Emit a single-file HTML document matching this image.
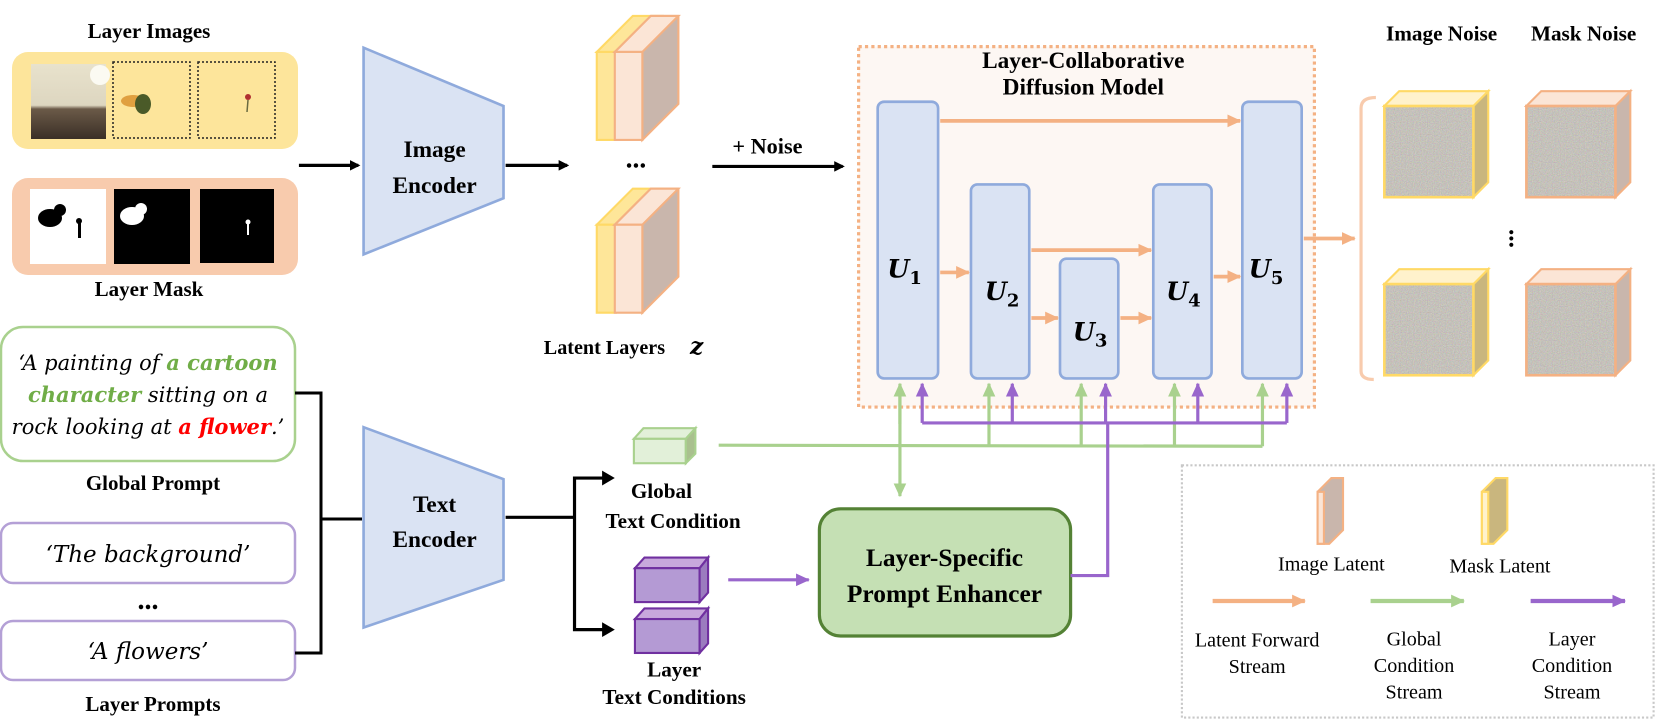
<!DOCTYPE html>
<html><head><meta charset="utf-8"><style>
html,body{margin:0;padding:0;background:#fff;}
svg{display:block;}
.b{font-family:"Liberation Serif",serif;font-weight:bold;fill:#000;}
.r{font-family:"Liberation Serif",serif;fill:#000;}
.i{font-family:"DejaVu Serif","Liberation Serif",serif;font-style:italic;}
</style></head><body>
<svg width="1662" height="726" viewBox="0 0 1662 726" xmlns="http://www.w3.org/2000/svg">
<defs>
<marker id="ak" markerWidth="10" markerHeight="10" refX="8" refY="5" orient="auto" markerUnits="userSpaceOnUse"><path d="M0,0 L10,5 L0,10 z" fill="#000"/></marker>
<marker id="ao" markerWidth="14" markerHeight="14" refX="12" refY="7" orient="auto" markerUnits="userSpaceOnUse"><path d="M0,1 L13,7 L0,13 z" fill="#f4b183"/></marker>
<marker id="ag" markerWidth="14" markerHeight="14" refX="12" refY="7" orient="auto" markerUnits="userSpaceOnUse"><path d="M0,1 L13,7 L0,13 z" fill="#a9d18e"/></marker>
<marker id="ap" markerWidth="14" markerHeight="14" refX="12" refY="7" orient="auto" markerUnits="userSpaceOnUse"><path d="M0,1 L13,7 L0,13 z" fill="#9966cc"/></marker>
<filter id="nz" x="0" y="0" width="100%" height="100%"><feTurbulence type="fractalNoise" baseFrequency="0.9" numOctaves="2" seed="3"/><feColorMatrix type="matrix" values="0.35 0 0 0 0.38  0 0.35 0 0 0.36  0 0 0.35 0 0.32  0 0 0 0 1"/></filter>
<linearGradient id="sky" x1="0" y1="0" x2="0" y2="1"><stop offset="0" stop-color="#e8e2cc"/><stop offset="0.55" stop-color="#ddd6c0"/><stop offset="0.6" stop-color="#6b5a48"/><stop offset="1" stop-color="#3a2f26"/></linearGradient>
</defs>

<!-- Layer images -->
<text x="149" y="38" class="b" font-size="21" text-anchor="middle">Layer Images</text>
<rect x="12" y="52" width="286" height="97" rx="16" fill="#fde59b"/>
<rect x="31" y="64" width="75" height="75" fill="url(#sky)"/>
<circle cx="100" cy="75" r="10" fill="#fbfaf2"/>
<rect x="113" y="62" width="77" height="76" fill="none" stroke="#222" stroke-width="1.5" stroke-dasharray="2,2"/>
<ellipse cx="133" cy="101" rx="12" ry="6" fill="#e0a040"/>
<ellipse cx="143" cy="104" rx="8" ry="10" fill="#4a5a28"/>
<rect x="198" y="62" width="77" height="76" fill="none" stroke="#222" stroke-width="1.5" stroke-dasharray="2,2"/>
<circle cx="248" cy="97" r="3" fill="#b03030"/><line x1="248" y1="100" x2="247" y2="112" stroke="#6a6a40" stroke-width="1.5"/>
<rect x="12" y="178" width="286" height="97" rx="16" fill="#f8cbad"/>
<rect x="30" y="189" width="76" height="75" fill="#fff"/>
<ellipse cx="50" cy="218" rx="12" ry="9" fill="#000"/><circle cx="60" cy="210" r="6" fill="#000"/><rect x="78" y="220" width="3" height="18" fill="#000"/><circle cx="79" cy="221" r="3" fill="#000"/>
<rect x="114" y="189" width="76" height="75" fill="#000"/>
<ellipse cx="132" cy="216" rx="12" ry="9" fill="#fff"/><circle cx="141" cy="209" r="6" fill="#fff"/>
<rect x="200" y="189" width="74" height="74" fill="#000"/>
<circle cx="248" cy="222" r="2.5" fill="#fff"/><rect x="247" y="223" width="2" height="12" fill="#fff"/>
<text x="149" y="296" class="b" font-size="21" text-anchor="middle">Layer Mask</text>

<!-- Prompts -->
<rect x="1" y="327" width="294" height="134" rx="22" fill="#fff" stroke="#a9d18e" stroke-width="2.5"/>
<g class="i" font-size="21">
<text x="148" y="370" text-anchor="middle">‘A  painting of <tspan fill="#70ad47" font-weight="bold">a cartoon</tspan></text>
<text x="148" y="402" text-anchor="middle"><tspan fill="#70ad47" font-weight="bold">character</tspan> sitting on a</text>
<text x="148" y="434" text-anchor="middle">rock looking at <tspan fill="#ff0000" font-weight="bold">a flower</tspan>.’</text>
</g>
<text x="153" y="490" class="b" font-size="21" text-anchor="middle">Global Prompt</text>
<rect x="1" y="523" width="294" height="60" rx="12" fill="#fff" stroke="#b4a0d6" stroke-width="2.5"/>
<text x="148" y="562" class="i" font-size="23" text-anchor="middle">‘The background’</text>
<text x="148" y="609" class="b" font-size="28" text-anchor="middle">...</text>
<rect x="1" y="621" width="294" height="59" rx="12" fill="#fff" stroke="#b4a0d6" stroke-width="2.5"/>
<text x="148" y="659" class="i" font-size="23" text-anchor="middle">‘A  flowers’</text>
<text x="153" y="711" class="b" font-size="21" text-anchor="middle">Layer Prompts</text>
<polyline points="295,393 321,393 321,653 295,653" fill="none" stroke="#000" stroke-width="3"/>
<line x1="321" y1="519" x2="362" y2="519" stroke="#000" stroke-width="3"/>

<g transform="scale(1.06)">
<!-- Image Encoder -->
<path d="M343,45 L475,100 L475,187 L343,240 Z" fill="#dae3f3" stroke="#8faadc" stroke-width="2.5"/>
<text x="410" y="148" class="b" font-size="22" text-anchor="middle">Image</text>
<text x="410" y="182" class="b" font-size="22" text-anchor="middle">Encoder</text>
<line x1="282" y1="156" x2="338" y2="156" stroke="#000" stroke-width="3" marker-end="url(#ak)"/>
<line x1="477" y1="156" x2="535" y2="156" stroke="#000" stroke-width="3" marker-end="url(#ak)"/>

<!-- Latent stacks -->
<g id="lat">
<path d="M563,49 L597,15 L624,15 L590,49 Z" fill="#fee699" stroke="#ffd966" stroke-width="2"/>
<rect x="563" y="49" width="18" height="83" fill="#fee699" stroke="#ffd966" stroke-width="2"/>
<path d="M580,49 L614,15 L640,15 L640,98 L606,132 L606,49 Z" fill="#c9b6ac" stroke="#f4b183" stroke-width="2"/>
<path d="M580,49 L614,15 L640,15 L606,49 Z" fill="#fbe5d6" stroke="#f4b183" stroke-width="2"/>
<rect x="580" y="49" width="26" height="83" fill="#fbe5d6" stroke="#f4b183" stroke-width="2"/>
</g>
<use href="#lat" transform="translate(0,163)"/>
<text x="600" y="158" class="b" font-size="26" text-anchor="middle">...</text>
<text x="513" y="334" class="b" font-size="19">Latent Layers</text>
<text x="651" y="334" font-family="DejaVu Serif,serif" font-weight="bold" font-style="italic" font-size="22">z</text>

<!-- Noise -->
<text x="724" y="145" class="b" font-size="21" text-anchor="middle">+ Noise</text>
<line x1="672" y1="157" x2="795" y2="157" stroke="#000" stroke-width="3" marker-end="url(#ak)"/>

<!-- Diffusion box -->
<rect x="810" y="44" width="430" height="340" fill="#fdf7f3" stroke="#f4b183" stroke-width="3" stroke-dasharray="3,3"/>
<text x="1022" y="64" class="b" font-size="22" text-anchor="middle">Layer-Collaborative</text>
<text x="1022" y="89" class="b" font-size="22" text-anchor="middle">Diffusion Model</text>
<g fill="#dae3f3" stroke="#8faadc" stroke-width="2.5">
<rect x="828" y="96" width="57" height="261" rx="6"/>
<rect x="916" y="174" width="55" height="183" rx="6"/>
<rect x="1000" y="244" width="55" height="113" rx="6"/>
<rect x="1088" y="174" width="55" height="183" rx="6"/>
<rect x="1172" y="96" width="56" height="261" rx="6"/>
</g>
<g font-family="DejaVu Serif,serif" font-weight="bold" font-style="italic" font-size="24">
<text x="837" y="262">U<tspan font-size="17" font-style="normal" dy="6">1</tspan></text>
<text x="929" y="283">U<tspan font-size="17" font-style="normal" dy="6">2</tspan></text>
<text x="1012" y="321">U<tspan font-size="17" font-style="normal" dy="6">3</tspan></text>
<text x="1100" y="283">U<tspan font-size="17" font-style="normal" dy="6">4</tspan></text>
<text x="1178" y="262">U<tspan font-size="17" font-style="normal" dy="6">5</tspan></text>
</g>
<g stroke="#f4b183" stroke-width="3.5">
<line x1="887" y1="114" x2="1170" y2="114" marker-end="url(#ao)"/>
<line x1="887" y1="257" x2="914" y2="257" marker-end="url(#ao)"/>
<line x1="973" y1="236" x2="1086" y2="236" marker-end="url(#ao)"/>
<line x1="973" y1="300" x2="998" y2="300" marker-end="url(#ao)"/>
<line x1="1057" y1="300" x2="1086" y2="300" marker-end="url(#ao)"/>
<line x1="1145" y1="261" x2="1170" y2="261" marker-end="url(#ao)"/>
<line x1="1230" y1="225" x2="1278" y2="225" marker-end="url(#ao)"/>
</g>

<!-- Noise cubes -->
<path d="M1298,92 Q1284,92 1284,102 L1284,350 Q1284,358 1296,358" fill="none" stroke="#f8cbad" stroke-width="3"/>
<text x="1360" y="38" class="b" font-size="20" text-anchor="middle">Image Noise</text>
<text x="1494" y="38" class="b" font-size="20" text-anchor="middle">Mask Noise</text>
<g id="nc">
<path d="M1390,100 L1404,86 L1404,172 L1390,186 Z" fill="#c9b67e" stroke="#ffd966" stroke-width="2"/>
<path d="M1306,100 L1320,86 L1404,86 L1390,100 Z" fill="#fff2cc" stroke="#ffd966" stroke-width="2"/>
<rect x="1306" y="100" width="84" height="86" fill="#888" filter="url(#nz)"/>
<rect x="1306" y="100" width="84" height="86" fill="none" stroke="#ffd966" stroke-width="2.5"/>
</g>
<g id="nm">
<path d="M1524,100 L1538,86 L1538,172 L1524,186 Z" fill="#c9b6ac" stroke="#f4b183" stroke-width="2"/>
<path d="M1440,100 L1454,86 L1538,86 L1524,100 Z" fill="#fbe5d6" stroke="#f4b183" stroke-width="2"/>
<rect x="1440" y="100" width="84" height="86" fill="#888" filter="url(#nz)"/>
<rect x="1440" y="100" width="84" height="86" fill="none" stroke="#f4b183" stroke-width="2.5"/>
</g>
<use href="#nc" transform="translate(0,168)"/>
<use href="#nm" transform="translate(0,168)"/>
<text x="1424" y="225" class="b" font-size="24" text-anchor="middle" transform="rotate(90 1424 225)">...</text>

<!-- Text Encoder -->
<path d="M343,403 L475,452 L475,547 L343,592 Z" fill="#dae3f3" stroke="#8faadc" stroke-width="2.5"/>
<text x="410" y="483" class="b" font-size="22" text-anchor="middle">Text</text>
<text x="410" y="516" class="b" font-size="22" text-anchor="middle">Encoder</text>
<line x1="477" y1="488" x2="542" y2="488" stroke="#000" stroke-width="3"/>
<polyline points="575,451 542,451 542,594 575,594" fill="none" stroke="#000" stroke-width="3"/>
<path d="M568,444 L580,451 L568,458 Z"/><path d="M568,587 L580,594 L568,601 Z"/>

<!-- Condition cubes -->
<g stroke="#a9d18e" stroke-width="2">
<path d="M598,414 L607,404 L656,404 L647,414 Z" fill="#e2f0d9"/>
<rect x="598" y="414" width="49" height="23" fill="#e2f0d9"/>
<path d="M647,414 L656,404 L656,428 L647,437 Z" fill="#a9c08e"/>
</g>
<text x="624" y="470" class="b" font-size="20" text-anchor="middle">Global</text>
<text x="635" y="498" class="b" font-size="20" text-anchor="middle">Text Condition</text>
<g id="pc" stroke="#7030a0" stroke-width="2">
<path d="M599,536 L608,526 L668,526 L660,536 Z" fill="#c8a8dc"/>
<rect x="599" y="536" width="61" height="32" fill="#b49ad4"/>
<path d="M660,536 L668,526 L668,559 L660,568 Z" fill="#9b7cbf"/>
</g>
<use href="#pc" transform="translate(0,48)"/>
<text x="636" y="638" class="b" font-size="20" text-anchor="middle">Layer</text>
<text x="636" y="664" class="b" font-size="20" text-anchor="middle">Text Conditions</text>
<line x1="687" y1="547" x2="763" y2="547" stroke="#9966cc" stroke-width="3" marker-end="url(#ap)"/>

<!-- Enhancer -->
<rect x="773" y="480" width="237" height="120" rx="20" fill="#c5e0b4" stroke="#548235" stroke-width="3"/>
<text x="891" y="534" class="b" font-size="24" text-anchor="middle">Layer-Specific</text>
<text x="891" y="568" class="b" font-size="24" text-anchor="middle">Prompt Enhancer</text>

<!-- Condition lines -->
<g stroke="#a9d18e" stroke-width="3" fill="none">
<line x1="678" y1="420" x2="1191" y2="421"/>
<line x1="849" y1="372" x2="849" y2="468" marker-end="url(#ag)"/>
<line x1="849" y1="400" x2="849" y2="362" marker-end="url(#ag)"/>
<line x1="933" y1="421" x2="933" y2="362" marker-end="url(#ag)"/>
<line x1="1020" y1="421" x2="1020" y2="362" marker-end="url(#ag)"/>
<line x1="1108" y1="421" x2="1108" y2="362" marker-end="url(#ag)"/>
<line x1="1191" y1="421" x2="1191" y2="362" marker-end="url(#ag)"/>
</g>
<g stroke="#9966cc" stroke-width="3" fill="none">
<line x1="870" y1="399" x2="1214" y2="399"/>
<line x1="870" y1="399" x2="870" y2="362" marker-end="url(#ap)"/>
<line x1="955" y1="399" x2="955" y2="362" marker-end="url(#ap)"/>
<line x1="1043" y1="399" x2="1043" y2="362" marker-end="url(#ap)"/>
<line x1="1130" y1="399" x2="1130" y2="362" marker-end="url(#ap)"/>
<line x1="1214" y1="399" x2="1214" y2="362" marker-end="url(#ap)"/>
<polyline points="1010,543 1045,543 1045,400"/>
</g>

<!-- Legend -->
<rect x="1115" y="439" width="445" height="238" fill="#fff" stroke="#c8c8c8" stroke-width="2" stroke-dasharray="2,2"/>
<path d="M1243,464 L1256,451 L1267,451 L1267,500 L1254,513 L1243,513 Z" fill="#c9b6ac" stroke="#f4b183" stroke-width="2"/>
<rect x="1243" y="464" width="6" height="49" fill="#fbe5d6" stroke="#f4b183" stroke-width="2"/>
<path d="M1398,464 L1411,451 L1422,451 L1422,500 L1409,513 L1398,513 Z" fill="#c9b67e" stroke="#ffd966" stroke-width="2"/>
<rect x="1398" y="464" width="6" height="49" fill="#fff2cc" stroke="#ffd966" stroke-width="2"/>
<text x="1256" y="538" class="r" font-size="19" text-anchor="middle">Image Latent</text>
<text x="1415" y="540" class="r" font-size="19" text-anchor="middle">Mask Latent</text>
<line x1="1144" y1="567" x2="1231" y2="567" stroke="#f4b183" stroke-width="4" marker-end="url(#ao)"/>
<line x1="1293" y1="567" x2="1381" y2="567" stroke="#a9d18e" stroke-width="4" marker-end="url(#ag)"/>
<line x1="1444" y1="567" x2="1533" y2="567" stroke="#9966cc" stroke-width="4" marker-end="url(#ap)"/>
<text x="1186" y="610" class="r" font-size="19" text-anchor="middle">Latent Forward</text>
<text x="1186" y="635" class="r" font-size="19" text-anchor="middle">Stream</text>
<text x="1334" y="609" class="r" font-size="19" text-anchor="middle">Global</text>
<text x="1334" y="634" class="r" font-size="19" text-anchor="middle">Condition</text>
<text x="1334" y="659" class="r" font-size="19" text-anchor="middle">Stream</text>
<text x="1483" y="609" class="r" font-size="19" text-anchor="middle">Layer</text>
<text x="1483" y="634" class="r" font-size="19" text-anchor="middle">Condition</text>
<text x="1483" y="659" class="r" font-size="19" text-anchor="middle">Stream</text>
</g>
</svg>
</body></html>
